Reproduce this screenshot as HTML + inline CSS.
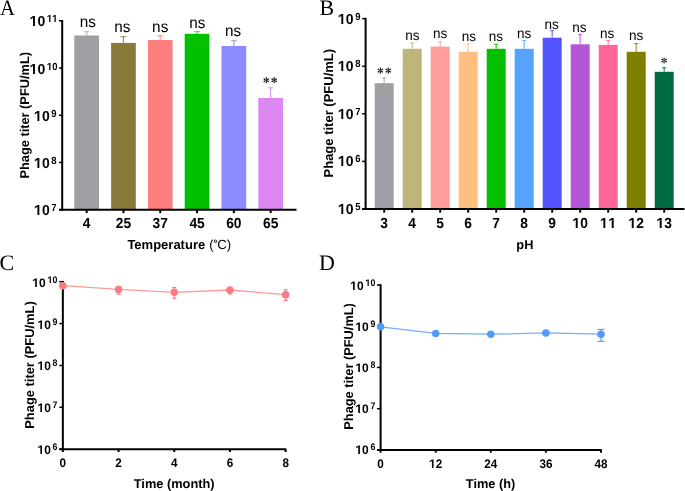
<!DOCTYPE html>
<html><head><meta charset="utf-8"><title>Phage stability</title>
<style>html,body{margin:0;padding:0;background:#fff;width:685px;height:491px;overflow:hidden}svg{display:block;will-change:transform}text{fill:#000;text-rendering:geometricPrecision}</style>
</head><body>
<svg width="685" height="491" viewBox="0 0 685 491">
<defs></defs>
<g transform="translate(0.10,14.60) scale(0.94,1.0)"><text x="0" y="0" font-size="22" text-anchor="start" font-weight="normal" font-family='"Liberation Serif", serif'>A</text></g>
<text x="319.40" y="14.60" font-size="22" text-anchor="start" font-weight="normal" font-family='"Liberation Serif", serif' >B</text>
<text x="-0.40" y="269.60" font-size="22" text-anchor="start" font-weight="normal" font-family='"Liberation Serif", serif' >C</text>
<text x="319.10" y="269.70" font-size="22" text-anchor="start" font-weight="normal" font-family='"Liberation Serif", serif' >D</text>
<line x1="86.65" y1="31.30" x2="86.65" y2="35.50" stroke="#B0AFB5" stroke-width="1.3" stroke-opacity="0.8"/>
<line x1="83.65" y1="31.80" x2="89.65" y2="31.80" stroke="#B0AFB5" stroke-width="1.0" stroke-opacity="0.85"/>
<rect x="74.30" y="35.50" width="24.70" height="174.20" fill="#A09FA6"/>
<g transform="translate(87.75,27.00) scale(1.0,1.04)"><text x="0" y="0" font-size="15.3" text-anchor="middle" font-weight="normal" font-family='"Liberation Sans", sans-serif'>ns</text></g>
<line x1="86.65" y1="209.70" x2="86.65" y2="213.10" stroke="#000" stroke-width="2"/>
<g transform="translate(86.65,228) scale(1.0,1.06)"><text x="0" y="0" font-size="13.8" text-anchor="middle" font-weight="bold" font-family='"Liberation Sans", sans-serif' style="font-kerning:none">4</text></g>
<line x1="123.45" y1="36.20" x2="123.45" y2="42.90" stroke="#8A7A3A" stroke-width="1.3" stroke-opacity="0.8"/>
<line x1="120.45" y1="36.70" x2="126.45" y2="36.70" stroke="#8A7A3A" stroke-width="1.0" stroke-opacity="0.85"/>
<rect x="111.10" y="42.90" width="24.70" height="166.80" fill="#8A7A3A"/>
<g transform="translate(122.35,32.00) scale(1.0,1.04)"><text x="0" y="0" font-size="15.3" text-anchor="middle" font-weight="normal" font-family='"Liberation Sans", sans-serif'>ns</text></g>
<line x1="123.45" y1="209.70" x2="123.45" y2="213.10" stroke="#000" stroke-width="2"/>
<g transform="translate(123.45,228) scale(1.0,1.06)"><text x="0" y="0" font-size="13.8" text-anchor="middle" font-weight="bold" font-family='"Liberation Sans", sans-serif' style="font-kerning:none">25</text></g>
<line x1="160.25" y1="35.30" x2="160.25" y2="40.00" stroke="#FF7F7F" stroke-width="1.3" stroke-opacity="0.8"/>
<line x1="157.25" y1="35.80" x2="163.25" y2="35.80" stroke="#FF7F7F" stroke-width="1.0" stroke-opacity="0.85"/>
<rect x="147.90" y="40.00" width="24.70" height="169.70" fill="#FF7F7F"/>
<g transform="translate(160.20,32.00) scale(1.0,1.04)"><text x="0" y="0" font-size="15.3" text-anchor="middle" font-weight="normal" font-family='"Liberation Sans", sans-serif'>ns</text></g>
<line x1="160.25" y1="209.70" x2="160.25" y2="213.10" stroke="#000" stroke-width="2"/>
<g transform="translate(160.25,228) scale(1.0,1.06)"><text x="0" y="0" font-size="13.8" text-anchor="middle" font-weight="bold" font-family='"Liberation Sans", sans-serif' style="font-kerning:none">37</text></g>
<line x1="197.05" y1="31.20" x2="197.05" y2="33.80" stroke="#33CC33" stroke-width="1.3" stroke-opacity="0.8"/>
<line x1="194.05" y1="31.70" x2="200.05" y2="31.70" stroke="#33CC33" stroke-width="1.0" stroke-opacity="0.85"/>
<rect x="184.70" y="33.80" width="24.70" height="175.90" fill="#00C000"/>
<g transform="translate(197.25,28.00) scale(1.0,1.04)"><text x="0" y="0" font-size="15.3" text-anchor="middle" font-weight="normal" font-family='"Liberation Sans", sans-serif'>ns</text></g>
<line x1="197.05" y1="209.70" x2="197.05" y2="213.10" stroke="#000" stroke-width="2"/>
<g transform="translate(197.05,228) scale(1.0,1.06)"><text x="0" y="0" font-size="13.8" text-anchor="middle" font-weight="bold" font-family='"Liberation Sans", sans-serif' style="font-kerning:none">45</text></g>
<line x1="233.85" y1="40.20" x2="233.85" y2="46.00" stroke="#8C8CFF" stroke-width="1.3" stroke-opacity="0.8"/>
<line x1="230.85" y1="40.70" x2="236.85" y2="40.70" stroke="#8C8CFF" stroke-width="1.0" stroke-opacity="0.85"/>
<rect x="221.50" y="46.00" width="24.70" height="163.70" fill="#8C8CFF"/>
<g transform="translate(233.15,36.00) scale(1.0,1.04)"><text x="0" y="0" font-size="15.3" text-anchor="middle" font-weight="normal" font-family='"Liberation Sans", sans-serif'>ns</text></g>
<line x1="233.85" y1="209.70" x2="233.85" y2="213.10" stroke="#000" stroke-width="2"/>
<g transform="translate(233.85,228) scale(1.0,1.06)"><text x="0" y="0" font-size="13.8" text-anchor="middle" font-weight="bold" font-family='"Liberation Sans", sans-serif' style="font-kerning:none">60</text></g>
<line x1="270.65" y1="87.40" x2="270.65" y2="98.00" stroke="#DD88F2" stroke-width="1.3" stroke-opacity="0.8"/>
<line x1="267.65" y1="87.90" x2="273.65" y2="87.90" stroke="#DD88F2" stroke-width="1.0" stroke-opacity="0.85"/>
<rect x="258.30" y="98.00" width="24.70" height="111.70" fill="#DD88F2"/>
<path d="M266.42,80.20 L267.05,77.85 A0.75,0.75 0 1 0 265.55,77.85 L266.18,80.20 Z M266.36,80.30 L268.71,79.67 A0.75,0.75 0 1 0 267.96,78.38 L266.24,80.10 Z M266.24,80.30 L267.96,82.02 A0.75,0.75 0 1 0 268.71,80.73 L266.36,80.10 Z M266.18,80.20 L265.55,82.55 A0.75,0.75 0 1 0 267.05,82.55 L266.42,80.20 Z M266.36,80.10 L264.64,78.38 A0.75,0.75 0 1 0 263.89,79.67 L266.24,80.30 Z M266.24,80.10 L263.89,80.73 A0.75,0.75 0 1 0 264.64,82.02 L266.36,80.30 Z" fill="#1a1a1a"/>
<path d="M274.32,80.20 L274.95,77.85 A0.75,0.75 0 1 0 273.45,77.85 L274.08,80.20 Z M274.26,80.30 L276.61,79.67 A0.75,0.75 0 1 0 275.86,78.38 L274.14,80.10 Z M274.14,80.30 L275.86,82.02 A0.75,0.75 0 1 0 276.61,80.73 L274.26,80.10 Z M274.08,80.20 L273.45,82.55 A0.75,0.75 0 1 0 274.95,82.55 L274.32,80.20 Z M274.26,80.10 L272.54,78.38 A0.75,0.75 0 1 0 271.79,79.67 L274.14,80.30 Z M274.14,80.10 L271.79,80.73 A0.75,0.75 0 1 0 272.54,82.02 L274.26,80.30 Z" fill="#1a1a1a"/>
<line x1="270.65" y1="209.70" x2="270.65" y2="213.10" stroke="#000" stroke-width="2"/>
<g transform="translate(270.65,228) scale(1.0,1.06)"><text x="0" y="0" font-size="13.8" text-anchor="middle" font-weight="bold" font-family='"Liberation Sans", sans-serif' style="font-kerning:none">65</text></g>
<line x1="62.20" y1="20.00" x2="62.20" y2="210.70" stroke="#000" stroke-width="2"/>
<line x1="59.00" y1="209.70" x2="296.50" y2="209.70" stroke="#000" stroke-width="2"/>
<line x1="59.00" y1="20.80" x2="62.20" y2="20.80" stroke="#000" stroke-width="1.5"/>
<g transform="translate(57.50,22) scale(1.0,1.08)"><path transform="translate(-10.564,0) scale(0.00464,-0.00464)" d="M478,0 L478,1170 L95,935 L95,1160 L493,1409 L759,1409 L759,0 Z"/><path transform="translate(-5.282,0) scale(0.00464,-0.00464)" d="M478,0 L478,1170 L95,935 L95,1160 L493,1409 L759,1409 L759,0 Z"/></g>
<g transform="translate(45.34,26) scale(1.0,1.03)"><text x="0" y="0" font-size="14" text-anchor="end" font-weight="bold" font-family='"Liberation Sans", sans-serif' style="font-kerning:none"> 0</text><path transform="translate(-15.568,0) scale(0.00684,-0.00684)" d="M478,0 L478,1170 L95,935 L95,1160 L493,1409 L759,1409 L759,0 Z"/></g>
<line x1="59.00" y1="68.02" x2="62.20" y2="68.02" stroke="#000" stroke-width="1.5"/>
<g transform="translate(57.50,70) scale(1.0,1.08)"><text x="0" y="0" font-size="9.5" text-anchor="end" font-weight="bold" font-family='"Liberation Sans", sans-serif' style="font-kerning:none"> 0</text><path transform="translate(-10.564,0) scale(0.00464,-0.00464)" d="M478,0 L478,1170 L95,935 L95,1160 L493,1409 L759,1409 L759,0 Z"/></g>
<g transform="translate(45.34,74) scale(1.0,1.03)"><text x="0" y="0" font-size="14" text-anchor="end" font-weight="bold" font-family='"Liberation Sans", sans-serif' style="font-kerning:none"> 0</text><path transform="translate(-15.568,0) scale(0.00684,-0.00684)" d="M478,0 L478,1170 L95,935 L95,1160 L493,1409 L759,1409 L759,0 Z"/></g>
<line x1="59.00" y1="115.25" x2="62.20" y2="115.25" stroke="#000" stroke-width="1.5"/>
<g transform="translate(56.50,117) scale(1.0,1.08)"><text x="0" y="0" font-size="9.5" text-anchor="end" font-weight="bold" font-family='"Liberation Sans", sans-serif' style="font-kerning:none">9</text></g>
<g transform="translate(49.72,121) scale(1.0,1.03)"><text x="0" y="0" font-size="14" text-anchor="end" font-weight="bold" font-family='"Liberation Sans", sans-serif' style="font-kerning:none"> 0</text><path transform="translate(-15.568,0) scale(0.00684,-0.00684)" d="M478,0 L478,1170 L95,935 L95,1160 L493,1409 L759,1409 L759,0 Z"/></g>
<line x1="59.00" y1="162.47" x2="62.20" y2="162.47" stroke="#000" stroke-width="1.5"/>
<g transform="translate(56.50,164) scale(1.0,1.08)"><text x="0" y="0" font-size="9.5" text-anchor="end" font-weight="bold" font-family='"Liberation Sans", sans-serif' style="font-kerning:none">8</text></g>
<g transform="translate(49.72,168) scale(1.0,1.03)"><text x="0" y="0" font-size="14" text-anchor="end" font-weight="bold" font-family='"Liberation Sans", sans-serif' style="font-kerning:none"> 0</text><path transform="translate(-15.568,0) scale(0.00684,-0.00684)" d="M478,0 L478,1170 L95,935 L95,1160 L493,1409 L759,1409 L759,0 Z"/></g>
<line x1="59.00" y1="209.70" x2="62.20" y2="209.70" stroke="#000" stroke-width="1.5"/>
<g transform="translate(56.50,211) scale(1.0,1.08)"><text x="0" y="0" font-size="9.5" text-anchor="end" font-weight="bold" font-family='"Liberation Sans", sans-serif' style="font-kerning:none">7</text></g>
<g transform="translate(49.72,215) scale(1.0,1.03)"><text x="0" y="0" font-size="14" text-anchor="end" font-weight="bold" font-family='"Liberation Sans", sans-serif' style="font-kerning:none"> 0</text><path transform="translate(-15.568,0) scale(0.00684,-0.00684)" d="M478,0 L478,1170 L95,935 L95,1160 L493,1409 L759,1409 L759,0 Z"/></g>
<text x="127.40" y="249.30" font-size="13.0" text-anchor="start" font-weight="bold" font-family='"Liberation Sans", sans-serif' >Temperature</text>
<text x="209.30" y="249.30" font-size="13.2" text-anchor="start" font-weight="normal" font-family='"Liberation Sans", sans-serif' >(</text>
<circle cx="215.6" cy="241.3" r="1.25" fill="none" stroke="#000" stroke-width="0.95"/>
<text x="217.20" y="249.30" font-size="13.2" text-anchor="start" font-weight="normal" font-family='"Liberation Sans", sans-serif' >C)</text>
<text transform="translate(29.3,115.3) rotate(-90)" x="0" y="0" text-anchor="middle" font-weight="bold" font-family='"Liberation Sans", sans-serif' font-size="12.8">Phage titer (PFU/mL)</text>
<line x1="384.20" y1="77.40" x2="384.20" y2="83.20" stroke="#A09FA6" stroke-width="1.3" stroke-opacity="0.75"/>
<line x1="382.10" y1="77.90" x2="386.30" y2="77.90" stroke="#A09FA6" stroke-width="1.0" stroke-opacity="0.85"/>
<rect x="374.70" y="83.20" width="19.00" height="125.80" fill="#A09FA6"/>
<path d="M380.52,70.60 L381.15,68.25 A0.75,0.75 0 1 0 379.65,68.25 L380.28,70.60 Z M380.46,70.70 L382.81,70.07 A0.75,0.75 0 1 0 382.06,68.78 L380.34,70.50 Z M380.34,70.70 L382.06,72.42 A0.75,0.75 0 1 0 382.81,71.13 L380.46,70.50 Z M380.28,70.60 L379.65,72.95 A0.75,0.75 0 1 0 381.15,72.95 L380.52,70.60 Z M380.46,70.50 L378.74,68.78 A0.75,0.75 0 1 0 377.99,70.07 L380.34,70.70 Z M380.34,70.50 L377.99,71.13 A0.75,0.75 0 1 0 378.74,72.42 L380.46,70.70 Z" fill="#1a1a1a"/>
<path d="M388.42,70.60 L389.05,68.25 A0.75,0.75 0 1 0 387.55,68.25 L388.18,70.60 Z M388.36,70.70 L390.71,70.07 A0.75,0.75 0 1 0 389.96,68.78 L388.24,70.50 Z M388.24,70.70 L389.96,72.42 A0.75,0.75 0 1 0 390.71,71.13 L388.36,70.50 Z M388.18,70.60 L387.55,72.95 A0.75,0.75 0 1 0 389.05,72.95 L388.42,70.60 Z M388.36,70.50 L386.64,68.78 A0.75,0.75 0 1 0 385.89,70.07 L388.24,70.70 Z M388.24,70.50 L385.89,71.13 A0.75,0.75 0 1 0 386.64,72.42 L388.36,70.70 Z" fill="#1a1a1a"/>
<line x1="384.20" y1="209.00" x2="384.20" y2="212.60" stroke="#000" stroke-width="2"/>
<g transform="translate(384.20,228) scale(1.0,1.06)"><text x="0" y="0" font-size="13.8" text-anchor="middle" font-weight="bold" font-family='"Liberation Sans", sans-serif' style="font-kerning:none">3</text></g>
<line x1="412.20" y1="42.40" x2="412.20" y2="48.80" stroke="#BDB57A" stroke-width="1.3" stroke-opacity="0.75"/>
<line x1="410.10" y1="42.90" x2="414.30" y2="42.90" stroke="#BDB57A" stroke-width="1.0" stroke-opacity="0.85"/>
<rect x="402.70" y="48.80" width="19.00" height="160.20" fill="#BDB57A"/>
<g transform="translate(412.45,40.00) scale(1.0,1.04)"><text x="0" y="0" font-size="13.5" text-anchor="middle" font-weight="normal" font-family='"Liberation Sans", sans-serif'>ns</text></g>
<line x1="412.20" y1="209.00" x2="412.20" y2="212.60" stroke="#000" stroke-width="2"/>
<g transform="translate(412.20,228) scale(1.0,1.06)"><text x="0" y="0" font-size="13.8" text-anchor="middle" font-weight="bold" font-family='"Liberation Sans", sans-serif' style="font-kerning:none">4</text></g>
<line x1="440.20" y1="41.30" x2="440.20" y2="46.60" stroke="#FF9C9C" stroke-width="1.3" stroke-opacity="0.75"/>
<line x1="438.10" y1="41.80" x2="442.30" y2="41.80" stroke="#FF9C9C" stroke-width="1.0" stroke-opacity="0.85"/>
<rect x="430.70" y="46.60" width="19.00" height="162.40" fill="#FF9C9C"/>
<g transform="translate(440.00,38.00) scale(1.0,1.04)"><text x="0" y="0" font-size="13.5" text-anchor="middle" font-weight="normal" font-family='"Liberation Sans", sans-serif'>ns</text></g>
<line x1="440.20" y1="209.00" x2="440.20" y2="212.60" stroke="#000" stroke-width="2"/>
<g transform="translate(440.20,228) scale(1.0,1.06)"><text x="0" y="0" font-size="13.8" text-anchor="middle" font-weight="bold" font-family='"Liberation Sans", sans-serif' style="font-kerning:none">5</text></g>
<line x1="468.20" y1="43.30" x2="468.20" y2="51.90" stroke="#FFBF7F" stroke-width="1.3" stroke-opacity="0.75"/>
<line x1="466.10" y1="43.80" x2="470.30" y2="43.80" stroke="#FFBF7F" stroke-width="1.0" stroke-opacity="0.85"/>
<rect x="458.70" y="51.90" width="19.00" height="157.10" fill="#FFBF7F"/>
<g transform="translate(468.85,41.00) scale(1.0,1.04)"><text x="0" y="0" font-size="13.5" text-anchor="middle" font-weight="normal" font-family='"Liberation Sans", sans-serif'>ns</text></g>
<line x1="468.20" y1="209.00" x2="468.20" y2="212.60" stroke="#000" stroke-width="2"/>
<g transform="translate(468.20,228) scale(1.0,1.06)"><text x="0" y="0" font-size="13.8" text-anchor="middle" font-weight="bold" font-family='"Liberation Sans", sans-serif' style="font-kerning:none">6</text></g>
<line x1="496.20" y1="43.80" x2="496.20" y2="48.80" stroke="#00C000" stroke-width="1.3" stroke-opacity="0.75"/>
<line x1="494.10" y1="44.30" x2="498.30" y2="44.30" stroke="#00C000" stroke-width="1.0" stroke-opacity="0.85"/>
<rect x="486.70" y="48.80" width="19.00" height="160.20" fill="#00C000"/>
<g transform="translate(495.90,41.00) scale(1.0,1.04)"><text x="0" y="0" font-size="13.5" text-anchor="middle" font-weight="normal" font-family='"Liberation Sans", sans-serif'>ns</text></g>
<line x1="496.20" y1="209.00" x2="496.20" y2="212.60" stroke="#000" stroke-width="2"/>
<g transform="translate(496.20,228) scale(1.0,1.06)"><text x="0" y="0" font-size="13.8" text-anchor="middle" font-weight="bold" font-family='"Liberation Sans", sans-serif' style="font-kerning:none">7</text></g>
<line x1="524.20" y1="40.10" x2="524.20" y2="48.80" stroke="#55A2FF" stroke-width="1.3" stroke-opacity="0.75"/>
<line x1="522.10" y1="40.60" x2="526.30" y2="40.60" stroke="#55A2FF" stroke-width="1.0" stroke-opacity="0.85"/>
<rect x="514.70" y="48.80" width="19.00" height="160.20" fill="#55A2FF"/>
<g transform="translate(524.20,38.00) scale(1.0,1.04)"><text x="0" y="0" font-size="13.5" text-anchor="middle" font-weight="normal" font-family='"Liberation Sans", sans-serif'>ns</text></g>
<line x1="524.20" y1="209.00" x2="524.20" y2="212.60" stroke="#000" stroke-width="2"/>
<g transform="translate(524.20,228) scale(1.0,1.06)"><text x="0" y="0" font-size="13.8" text-anchor="middle" font-weight="bold" font-family='"Liberation Sans", sans-serif' style="font-kerning:none">8</text></g>
<line x1="552.20" y1="30.20" x2="552.20" y2="37.70" stroke="#5555FF" stroke-width="1.3" stroke-opacity="0.75"/>
<line x1="550.10" y1="30.70" x2="554.30" y2="30.70" stroke="#5555FF" stroke-width="1.0" stroke-opacity="0.85"/>
<rect x="542.70" y="37.70" width="19.00" height="171.30" fill="#5555FF"/>
<g transform="translate(551.55,29.00) scale(1.0,1.04)"><text x="0" y="0" font-size="13.5" text-anchor="middle" font-weight="normal" font-family='"Liberation Sans", sans-serif'>ns</text></g>
<line x1="552.20" y1="209.00" x2="552.20" y2="212.60" stroke="#000" stroke-width="2"/>
<g transform="translate(552.20,228) scale(1.0,1.06)"><text x="0" y="0" font-size="13.8" text-anchor="middle" font-weight="bold" font-family='"Liberation Sans", sans-serif' style="font-kerning:none">9</text></g>
<line x1="580.20" y1="34.10" x2="580.20" y2="44.30" stroke="#B455D8" stroke-width="1.3" stroke-opacity="0.75"/>
<line x1="578.10" y1="34.60" x2="582.30" y2="34.60" stroke="#B455D8" stroke-width="1.0" stroke-opacity="0.85"/>
<rect x="570.70" y="44.30" width="19.00" height="164.70" fill="#B455D8"/>
<g transform="translate(579.40,32.00) scale(1.0,1.04)"><text x="0" y="0" font-size="13.5" text-anchor="middle" font-weight="normal" font-family='"Liberation Sans", sans-serif'>ns</text></g>
<line x1="580.20" y1="209.00" x2="580.20" y2="212.60" stroke="#000" stroke-width="2"/>
<g transform="translate(580.20,228) scale(1.0,1.06)"><text x="0" y="0" font-size="13.8" text-anchor="middle" font-weight="bold" font-family='"Liberation Sans", sans-serif' style="font-kerning:none"> 0</text><path transform="translate(-7.673,0) scale(0.00674,-0.00674)" d="M478,0 L478,1170 L95,935 L95,1160 L493,1409 L759,1409 L759,0 Z"/></g>
<line x1="608.20" y1="40.10" x2="608.20" y2="44.90" stroke="#FF6699" stroke-width="1.3" stroke-opacity="0.75"/>
<line x1="606.10" y1="40.60" x2="610.30" y2="40.60" stroke="#FF6699" stroke-width="1.0" stroke-opacity="0.85"/>
<rect x="598.70" y="44.90" width="19.00" height="164.10" fill="#FF6699"/>
<g transform="translate(607.10,38.00) scale(1.0,1.04)"><text x="0" y="0" font-size="13.5" text-anchor="middle" font-weight="normal" font-family='"Liberation Sans", sans-serif'>ns</text></g>
<line x1="608.20" y1="209.00" x2="608.20" y2="212.60" stroke="#000" stroke-width="2"/>
<g transform="translate(608.20,228) scale(1.0,1.06)"><path transform="translate(-8.023,0) scale(0.00674,-0.00674)" d="M478,0 L478,1170 L95,935 L95,1160 L493,1409 L759,1409 L759,0 Z"/><path transform="translate(0.350,0) scale(0.00674,-0.00674)" d="M478,0 L478,1170 L95,935 L95,1160 L493,1409 L759,1409 L759,0 Z"/></g>
<line x1="636.20" y1="43.10" x2="636.20" y2="51.80" stroke="#808000" stroke-width="1.3" stroke-opacity="0.75"/>
<line x1="634.10" y1="43.60" x2="638.30" y2="43.60" stroke="#808000" stroke-width="1.0" stroke-opacity="0.85"/>
<rect x="626.70" y="51.80" width="19.00" height="157.20" fill="#808000"/>
<g transform="translate(636.00,40.00) scale(1.0,1.04)"><text x="0" y="0" font-size="13.5" text-anchor="middle" font-weight="normal" font-family='"Liberation Sans", sans-serif'>ns</text></g>
<line x1="636.20" y1="209.00" x2="636.20" y2="212.60" stroke="#000" stroke-width="2"/>
<g transform="translate(636.20,228) scale(1.0,1.06)"><text x="0" y="0" font-size="13.8" text-anchor="middle" font-weight="bold" font-family='"Liberation Sans", sans-serif' style="font-kerning:none"> 2</text><path transform="translate(-7.673,0) scale(0.00674,-0.00674)" d="M478,0 L478,1170 L95,935 L95,1160 L493,1409 L759,1409 L759,0 Z"/></g>
<line x1="664.20" y1="67.30" x2="664.20" y2="71.80" stroke="#006A40" stroke-width="1.3" stroke-opacity="0.75"/>
<line x1="662.10" y1="67.80" x2="666.30" y2="67.80" stroke="#006A40" stroke-width="1.0" stroke-opacity="0.85"/>
<rect x="654.70" y="71.80" width="19.00" height="137.20" fill="#006A40"/>
<path d="M664.22,60.50 L664.85,58.15 A0.75,0.75 0 1 0 663.35,58.15 L663.98,60.50 Z M664.16,60.60 L666.51,59.97 A0.75,0.75 0 1 0 665.76,58.68 L664.04,60.40 Z M664.04,60.60 L665.76,62.32 A0.75,0.75 0 1 0 666.51,61.03 L664.16,60.40 Z M663.98,60.50 L663.35,62.85 A0.75,0.75 0 1 0 664.85,62.85 L664.22,60.50 Z M664.16,60.40 L662.44,58.68 A0.75,0.75 0 1 0 661.69,59.97 L664.04,60.60 Z M664.04,60.40 L661.69,61.03 A0.75,0.75 0 1 0 662.44,62.32 L664.16,60.60 Z" fill="#1a1a1a"/>
<line x1="664.20" y1="209.00" x2="664.20" y2="212.60" stroke="#000" stroke-width="2"/>
<g transform="translate(664.20,228) scale(1.0,1.06)"><text x="0" y="0" font-size="13.8" text-anchor="middle" font-weight="bold" font-family='"Liberation Sans", sans-serif' style="font-kerning:none"> 3</text><path transform="translate(-7.673,0) scale(0.00674,-0.00674)" d="M478,0 L478,1170 L95,935 L95,1160 L493,1409 L759,1409 L759,0 Z"/></g>
<line x1="365.60" y1="17.80" x2="365.60" y2="210.00" stroke="#000" stroke-width="2"/>
<line x1="362.20" y1="209.00" x2="684.50" y2="209.00" stroke="#000" stroke-width="2"/>
<line x1="362.20" y1="18.60" x2="365.60" y2="18.60" stroke="#000" stroke-width="1.5"/>
<g transform="translate(360.60,20) scale(1.0,1.08)"><text x="0" y="0" font-size="9.5" text-anchor="end" font-weight="bold" font-family='"Liberation Sans", sans-serif' style="font-kerning:none">9</text></g>
<g transform="translate(353.62,24) scale(1.0,1.03)"><text x="0" y="0" font-size="14" text-anchor="end" font-weight="bold" font-family='"Liberation Sans", sans-serif' style="font-kerning:none"> 0</text><path transform="translate(-15.568,0) scale(0.00684,-0.00684)" d="M478,0 L478,1170 L95,935 L95,1160 L493,1409 L759,1409 L759,0 Z"/></g>
<line x1="362.20" y1="66.20" x2="365.60" y2="66.20" stroke="#000" stroke-width="1.5"/>
<g transform="translate(360.60,67) scale(1.0,1.08)"><text x="0" y="0" font-size="9.5" text-anchor="end" font-weight="bold" font-family='"Liberation Sans", sans-serif' style="font-kerning:none">8</text></g>
<g transform="translate(353.62,71) scale(1.0,1.03)"><text x="0" y="0" font-size="14" text-anchor="end" font-weight="bold" font-family='"Liberation Sans", sans-serif' style="font-kerning:none"> 0</text><path transform="translate(-15.568,0) scale(0.00684,-0.00684)" d="M478,0 L478,1170 L95,935 L95,1160 L493,1409 L759,1409 L759,0 Z"/></g>
<line x1="362.20" y1="113.80" x2="365.60" y2="113.80" stroke="#000" stroke-width="1.5"/>
<g transform="translate(360.60,115) scale(1.0,1.08)"><text x="0" y="0" font-size="9.5" text-anchor="end" font-weight="bold" font-family='"Liberation Sans", sans-serif' style="font-kerning:none">7</text></g>
<g transform="translate(353.62,119) scale(1.0,1.03)"><text x="0" y="0" font-size="14" text-anchor="end" font-weight="bold" font-family='"Liberation Sans", sans-serif' style="font-kerning:none"> 0</text><path transform="translate(-15.568,0) scale(0.00684,-0.00684)" d="M478,0 L478,1170 L95,935 L95,1160 L493,1409 L759,1409 L759,0 Z"/></g>
<line x1="362.20" y1="161.40" x2="365.60" y2="161.40" stroke="#000" stroke-width="1.5"/>
<g transform="translate(360.60,162) scale(1.0,1.08)"><text x="0" y="0" font-size="9.5" text-anchor="end" font-weight="bold" font-family='"Liberation Sans", sans-serif' style="font-kerning:none">6</text></g>
<g transform="translate(353.62,166) scale(1.0,1.03)"><text x="0" y="0" font-size="14" text-anchor="end" font-weight="bold" font-family='"Liberation Sans", sans-serif' style="font-kerning:none"> 0</text><path transform="translate(-15.568,0) scale(0.00684,-0.00684)" d="M478,0 L478,1170 L95,935 L95,1160 L493,1409 L759,1409 L759,0 Z"/></g>
<line x1="362.20" y1="209.00" x2="365.60" y2="209.00" stroke="#000" stroke-width="1.5"/>
<g transform="translate(360.60,210) scale(1.0,1.08)"><text x="0" y="0" font-size="9.5" text-anchor="end" font-weight="bold" font-family='"Liberation Sans", sans-serif' style="font-kerning:none">5</text></g>
<g transform="translate(353.62,214) scale(1.0,1.03)"><text x="0" y="0" font-size="14" text-anchor="end" font-weight="bold" font-family='"Liberation Sans", sans-serif' style="font-kerning:none"> 0</text><path transform="translate(-15.568,0) scale(0.00684,-0.00684)" d="M478,0 L478,1170 L95,935 L95,1160 L493,1409 L759,1409 L759,0 Z"/></g>
<text x="524.90" y="249.00" font-size="12.8" text-anchor="middle" font-weight="bold" font-family='"Liberation Sans", sans-serif' >pH</text>
<text transform="translate(333.0,113.2) rotate(-90)" x="0" y="0" text-anchor="middle" font-weight="bold" font-family='"Liberation Sans", sans-serif' font-size="13.0">Phage titer (PFU/mL)</text>
<polyline points="62.85,285.70 118.55,289.40 174.25,292.30 229.95,290.00 285.65,294.70" fill="none" stroke="#FC9A9A" stroke-width="1.3"/>
<line x1="62.85" y1="280.90" x2="62.85" y2="450.20" stroke="#000" stroke-width="2"/>
<line x1="59.30" y1="449.20" x2="286.20" y2="449.20" stroke="#000" stroke-width="2"/>
<line x1="59.30" y1="281.70" x2="62.85" y2="281.70" stroke="#000" stroke-width="1.5"/>
<g transform="translate(57.40,283) scale(1.0,1.08)"><text x="0" y="0" font-size="8.8" text-anchor="end" font-weight="bold" font-family='"Liberation Sans", sans-serif' style="font-kerning:none"> 0</text><path transform="translate(-9.786,0) scale(0.00430,-0.00430)" d="M478,0 L478,1170 L95,935 L95,1160 L493,1409 L759,1409 L759,0 Z"/></g>
<g transform="translate(45.71,287) scale(1.0,1.03)"><text x="0" y="0" font-size="12" text-anchor="end" font-weight="bold" font-family='"Liberation Sans", sans-serif' style="font-kerning:none"> 0</text><path transform="translate(-13.344,0) scale(0.00586,-0.00586)" d="M478,0 L478,1170 L95,935 L95,1160 L493,1409 L759,1409 L759,0 Z"/></g>
<line x1="59.30" y1="323.57" x2="62.85" y2="323.57" stroke="#000" stroke-width="1.5"/>
<g transform="translate(57.40,325) scale(1.0,1.08)"><text x="0" y="0" font-size="8.8" text-anchor="end" font-weight="bold" font-family='"Liberation Sans", sans-serif' style="font-kerning:none">9</text></g>
<g transform="translate(50.91,329) scale(1.0,1.03)"><text x="0" y="0" font-size="12" text-anchor="end" font-weight="bold" font-family='"Liberation Sans", sans-serif' style="font-kerning:none"> 0</text><path transform="translate(-13.344,0) scale(0.00586,-0.00586)" d="M478,0 L478,1170 L95,935 L95,1160 L493,1409 L759,1409 L759,0 Z"/></g>
<line x1="59.30" y1="365.45" x2="62.85" y2="365.45" stroke="#000" stroke-width="1.5"/>
<g transform="translate(57.40,366) scale(1.0,1.08)"><text x="0" y="0" font-size="8.8" text-anchor="end" font-weight="bold" font-family='"Liberation Sans", sans-serif' style="font-kerning:none">8</text></g>
<g transform="translate(50.91,370) scale(1.0,1.03)"><text x="0" y="0" font-size="12" text-anchor="end" font-weight="bold" font-family='"Liberation Sans", sans-serif' style="font-kerning:none"> 0</text><path transform="translate(-13.344,0) scale(0.00586,-0.00586)" d="M478,0 L478,1170 L95,935 L95,1160 L493,1409 L759,1409 L759,0 Z"/></g>
<line x1="59.30" y1="407.32" x2="62.85" y2="407.32" stroke="#000" stroke-width="1.5"/>
<g transform="translate(57.40,408) scale(1.0,1.08)"><text x="0" y="0" font-size="8.8" text-anchor="end" font-weight="bold" font-family='"Liberation Sans", sans-serif' style="font-kerning:none">7</text></g>
<g transform="translate(50.91,412) scale(1.0,1.03)"><text x="0" y="0" font-size="12" text-anchor="end" font-weight="bold" font-family='"Liberation Sans", sans-serif' style="font-kerning:none"> 0</text><path transform="translate(-13.344,0) scale(0.00586,-0.00586)" d="M478,0 L478,1170 L95,935 L95,1160 L493,1409 L759,1409 L759,0 Z"/></g>
<line x1="59.30" y1="449.20" x2="62.85" y2="449.20" stroke="#000" stroke-width="1.5"/>
<g transform="translate(57.40,450) scale(1.0,1.08)"><text x="0" y="0" font-size="8.8" text-anchor="end" font-weight="bold" font-family='"Liberation Sans", sans-serif' style="font-kerning:none">6</text></g>
<g transform="translate(50.91,454) scale(1.0,1.03)"><text x="0" y="0" font-size="12" text-anchor="end" font-weight="bold" font-family='"Liberation Sans", sans-serif' style="font-kerning:none"> 0</text><path transform="translate(-13.344,0) scale(0.00586,-0.00586)" d="M478,0 L478,1170 L95,935 L95,1160 L493,1409 L759,1409 L759,0 Z"/></g>
<line x1="62.85" y1="449.20" x2="62.85" y2="452.00" stroke="#000" stroke-width="2"/>
<g transform="translate(62.85,467) scale(1.0,1.06)"><text x="0" y="0" font-size="11.7" text-anchor="middle" font-weight="bold" font-family='"Liberation Sans", sans-serif' style="font-kerning:none">0</text></g>
<line x1="118.55" y1="449.20" x2="118.55" y2="452.00" stroke="#000" stroke-width="2"/>
<g transform="translate(118.55,467) scale(1.0,1.06)"><text x="0" y="0" font-size="11.7" text-anchor="middle" font-weight="bold" font-family='"Liberation Sans", sans-serif' style="font-kerning:none">2</text></g>
<line x1="174.25" y1="449.20" x2="174.25" y2="452.00" stroke="#000" stroke-width="2"/>
<g transform="translate(174.25,467) scale(1.0,1.06)"><text x="0" y="0" font-size="11.7" text-anchor="middle" font-weight="bold" font-family='"Liberation Sans", sans-serif' style="font-kerning:none">4</text></g>
<line x1="229.95" y1="449.20" x2="229.95" y2="452.00" stroke="#000" stroke-width="2"/>
<g transform="translate(229.95,467) scale(1.0,1.06)"><text x="0" y="0" font-size="11.7" text-anchor="middle" font-weight="bold" font-family='"Liberation Sans", sans-serif' style="font-kerning:none">6</text></g>
<line x1="285.65" y1="449.20" x2="285.65" y2="452.00" stroke="#000" stroke-width="2"/>
<g transform="translate(285.65,467) scale(1.0,1.06)"><text x="0" y="0" font-size="11.7" text-anchor="middle" font-weight="bold" font-family='"Liberation Sans", sans-serif' style="font-kerning:none">8</text></g>
<circle cx="62.85" cy="285.70" r="3.75" fill="#FD7A80"/>
<line x1="118.55" y1="286.50" x2="118.55" y2="294.10" stroke="#FD7A80" stroke-width="1.2"/>
<line x1="116.55" y1="286.50" x2="120.55" y2="286.50" stroke="#FD7A80" stroke-width="1.1"/>
<line x1="116.55" y1="294.10" x2="120.55" y2="294.10" stroke="#FD7A80" stroke-width="1.1"/>
<circle cx="118.55" cy="289.40" r="3.75" fill="#FD7A80"/>
<line x1="174.25" y1="287.50" x2="174.25" y2="298.20" stroke="#FD7A80" stroke-width="1.2"/>
<line x1="172.25" y1="287.50" x2="176.25" y2="287.50" stroke="#FD7A80" stroke-width="1.1"/>
<line x1="172.25" y1="298.20" x2="176.25" y2="298.20" stroke="#FD7A80" stroke-width="1.1"/>
<circle cx="174.25" cy="292.30" r="3.75" fill="#FD7A80"/>
<line x1="229.95" y1="287.50" x2="229.95" y2="294.00" stroke="#FD7A80" stroke-width="1.2"/>
<line x1="227.95" y1="287.50" x2="231.95" y2="287.50" stroke="#FD7A80" stroke-width="1.1"/>
<line x1="227.95" y1="294.00" x2="231.95" y2="294.00" stroke="#FD7A80" stroke-width="1.1"/>
<circle cx="229.95" cy="290.00" r="3.75" fill="#FD7A80"/>
<line x1="285.65" y1="289.70" x2="285.65" y2="300.50" stroke="#FD7A80" stroke-width="1.2"/>
<line x1="283.65" y1="289.70" x2="287.65" y2="289.70" stroke="#FD7A80" stroke-width="1.1"/>
<line x1="283.65" y1="300.50" x2="287.65" y2="300.50" stroke="#FD7A80" stroke-width="1.1"/>
<circle cx="285.65" cy="294.70" r="3.75" fill="#FD7A80"/>
<text x="174.20" y="488.00" font-size="12.8" text-anchor="middle" font-weight="bold" font-family='"Liberation Sans", sans-serif' >Time (month)</text>
<text transform="translate(33.8,365.0) rotate(-90)" x="0" y="0" text-anchor="middle" font-weight="bold" font-family='"Liberation Sans", sans-serif' font-size="12.9">Phage titer (PFU/mL)</text>
<polyline points="380.60,326.80 435.70,333.40 490.80,334.20 545.90,333.00 601.00,334.20" fill="none" stroke="#76AEF6" stroke-width="1.25"/>
<line x1="380.60" y1="284.20" x2="380.60" y2="450.90" stroke="#000" stroke-width="2"/>
<line x1="377.00" y1="449.90" x2="601.80" y2="449.90" stroke="#000" stroke-width="2"/>
<line x1="377.00" y1="285.00" x2="380.60" y2="285.00" stroke="#000" stroke-width="1.5"/>
<g transform="translate(375.30,286) scale(1.0,1.08)"><text x="0" y="0" font-size="8.8" text-anchor="end" font-weight="bold" font-family='"Liberation Sans", sans-serif' style="font-kerning:none"> 0</text><path transform="translate(-9.786,0) scale(0.00430,-0.00430)" d="M478,0 L478,1170 L95,935 L95,1160 L493,1409 L759,1409 L759,0 Z"/></g>
<g transform="translate(363.61,290) scale(1.0,1.03)"><text x="0" y="0" font-size="12" text-anchor="end" font-weight="bold" font-family='"Liberation Sans", sans-serif' style="font-kerning:none"> 0</text><path transform="translate(-13.344,0) scale(0.00586,-0.00586)" d="M478,0 L478,1170 L95,935 L95,1160 L493,1409 L759,1409 L759,0 Z"/></g>
<line x1="377.00" y1="326.23" x2="380.60" y2="326.23" stroke="#000" stroke-width="1.5"/>
<g transform="translate(375.30,327) scale(1.0,1.08)"><text x="0" y="0" font-size="8.8" text-anchor="end" font-weight="bold" font-family='"Liberation Sans", sans-serif' style="font-kerning:none">9</text></g>
<g transform="translate(368.81,331) scale(1.0,1.03)"><text x="0" y="0" font-size="12" text-anchor="end" font-weight="bold" font-family='"Liberation Sans", sans-serif' style="font-kerning:none"> 0</text><path transform="translate(-13.344,0) scale(0.00586,-0.00586)" d="M478,0 L478,1170 L95,935 L95,1160 L493,1409 L759,1409 L759,0 Z"/></g>
<line x1="377.00" y1="367.45" x2="380.60" y2="367.45" stroke="#000" stroke-width="1.5"/>
<g transform="translate(375.30,368) scale(1.0,1.08)"><text x="0" y="0" font-size="8.8" text-anchor="end" font-weight="bold" font-family='"Liberation Sans", sans-serif' style="font-kerning:none">8</text></g>
<g transform="translate(368.81,372) scale(1.0,1.03)"><text x="0" y="0" font-size="12" text-anchor="end" font-weight="bold" font-family='"Liberation Sans", sans-serif' style="font-kerning:none"> 0</text><path transform="translate(-13.344,0) scale(0.00586,-0.00586)" d="M478,0 L478,1170 L95,935 L95,1160 L493,1409 L759,1409 L759,0 Z"/></g>
<line x1="377.00" y1="408.67" x2="380.60" y2="408.67" stroke="#000" stroke-width="1.5"/>
<g transform="translate(375.30,409) scale(1.0,1.08)"><text x="0" y="0" font-size="8.8" text-anchor="end" font-weight="bold" font-family='"Liberation Sans", sans-serif' style="font-kerning:none">7</text></g>
<g transform="translate(368.81,413) scale(1.0,1.03)"><text x="0" y="0" font-size="12" text-anchor="end" font-weight="bold" font-family='"Liberation Sans", sans-serif' style="font-kerning:none"> 0</text><path transform="translate(-13.344,0) scale(0.00586,-0.00586)" d="M478,0 L478,1170 L95,935 L95,1160 L493,1409 L759,1409 L759,0 Z"/></g>
<line x1="377.00" y1="449.90" x2="380.60" y2="449.90" stroke="#000" stroke-width="1.5"/>
<g transform="translate(375.30,450) scale(1.0,1.08)"><text x="0" y="0" font-size="8.8" text-anchor="end" font-weight="bold" font-family='"Liberation Sans", sans-serif' style="font-kerning:none">6</text></g>
<g transform="translate(368.81,454) scale(1.0,1.03)"><text x="0" y="0" font-size="12" text-anchor="end" font-weight="bold" font-family='"Liberation Sans", sans-serif' style="font-kerning:none"> 0</text><path transform="translate(-13.344,0) scale(0.00586,-0.00586)" d="M478,0 L478,1170 L95,935 L95,1160 L493,1409 L759,1409 L759,0 Z"/></g>
<line x1="380.60" y1="449.90" x2="380.60" y2="452.70" stroke="#000" stroke-width="2"/>
<g transform="translate(380.60,468) scale(1.0,1.06)"><text x="0" y="0" font-size="11.7" text-anchor="middle" font-weight="bold" font-family='"Liberation Sans", sans-serif' style="font-kerning:none">0</text></g>
<line x1="435.70" y1="449.90" x2="435.70" y2="452.70" stroke="#000" stroke-width="2"/>
<g transform="translate(435.70,468) scale(1.0,1.06)"><text x="0" y="0" font-size="11.7" text-anchor="middle" font-weight="bold" font-family='"Liberation Sans", sans-serif' style="font-kerning:none"> 2</text><path transform="translate(-6.505,0) scale(0.00571,-0.00571)" d="M478,0 L478,1170 L95,935 L95,1160 L493,1409 L759,1409 L759,0 Z"/></g>
<line x1="490.80" y1="449.90" x2="490.80" y2="452.70" stroke="#000" stroke-width="2"/>
<g transform="translate(490.80,468) scale(1.0,1.06)"><text x="0" y="0" font-size="11.7" text-anchor="middle" font-weight="bold" font-family='"Liberation Sans", sans-serif' style="font-kerning:none">24</text></g>
<line x1="545.90" y1="449.90" x2="545.90" y2="452.70" stroke="#000" stroke-width="2"/>
<g transform="translate(545.90,468) scale(1.0,1.06)"><text x="0" y="0" font-size="11.7" text-anchor="middle" font-weight="bold" font-family='"Liberation Sans", sans-serif' style="font-kerning:none">36</text></g>
<line x1="601.00" y1="449.90" x2="601.00" y2="452.70" stroke="#000" stroke-width="2"/>
<g transform="translate(601.00,468) scale(1.0,1.06)"><text x="0" y="0" font-size="11.7" text-anchor="middle" font-weight="bold" font-family='"Liberation Sans", sans-serif' style="font-kerning:none">48</text></g>
<circle cx="380.60" cy="326.80" r="3.75" fill="#529BF9"/>
<circle cx="435.70" cy="333.40" r="3.75" fill="#529BF9"/>
<circle cx="490.80" cy="334.20" r="3.75" fill="#529BF9"/>
<circle cx="545.90" cy="333.00" r="3.75" fill="#529BF9"/>
<line x1="601.00" y1="329.40" x2="601.00" y2="341.40" stroke="#529BF9" stroke-width="1.2"/>
<line x1="597.40" y1="329.40" x2="604.60" y2="329.40" stroke="#529BF9" stroke-width="1.1"/>
<line x1="597.40" y1="341.40" x2="604.60" y2="341.40" stroke="#529BF9" stroke-width="1.1"/>
<circle cx="601.00" cy="334.20" r="3.75" fill="#529BF9"/>
<text x="490.60" y="487.80" font-size="12.8" text-anchor="middle" font-weight="bold" font-family='"Liberation Sans", sans-serif' >Time (h)</text>
<text transform="translate(353.0,366.4) rotate(-90)" x="0" y="0" text-anchor="middle" font-weight="bold" font-family='"Liberation Sans", sans-serif' font-size="12.8">Phage titer (PFU/mL)</text>
</svg>
</body></html>
